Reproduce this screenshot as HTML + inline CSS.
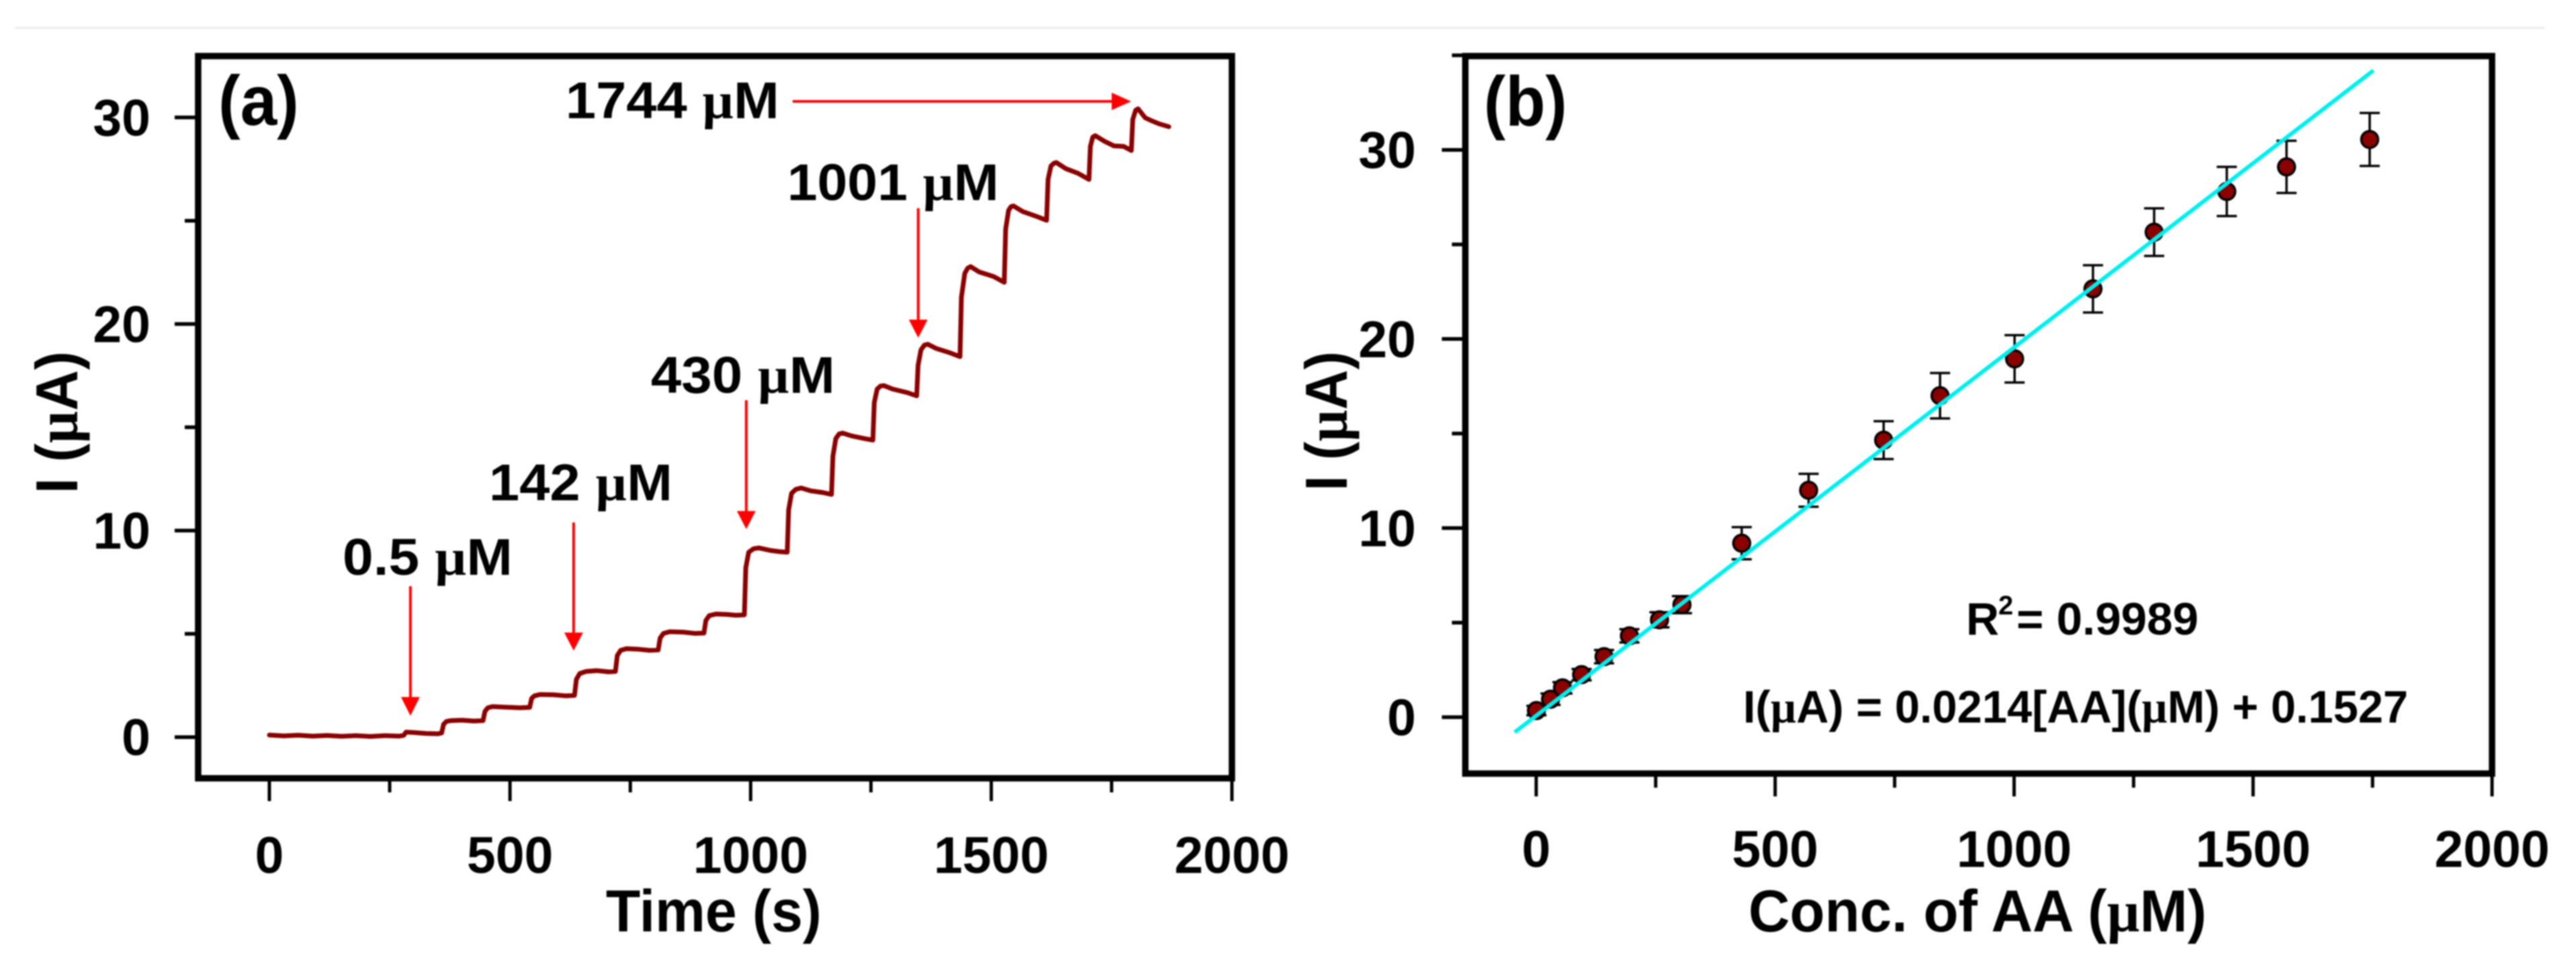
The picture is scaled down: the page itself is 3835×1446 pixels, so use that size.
<!DOCTYPE html>
<html lang="en">
<head>
<meta charset="utf-8">
<title>Current response of AA additions and calibration plot</title>
<style>
html,body{margin:0;padding:0;background:#fff;width:3835px;height:1446px;overflow:hidden}
svg{display:block;filter:blur(1px)}
text{font-family:"Liberation Sans",sans-serif;font-weight:bold;fill:#000}
.mu{font-family:"Liberation Serif",serif;font-weight:bold}
</style>
</head>
<body>
<svg id="figure" xmlns="http://www.w3.org/2000/svg" width="3835" height="1446" viewBox="0 0 3835 1446">
  <rect x="22" y="40" width="3766" height="3" fill="#ececec"/>

  <g id="panel-a">
    <rect x="295" y="83.5" width="1539" height="1075.5" fill="none" stroke="#000" stroke-width="9.5"/>
    <g id="a-axes"></g>
    <g id="a-series"></g>
    <text x="325" y="186" font-size="105" textLength="120" lengthAdjust="spacingAndGlyphs">(a)</text>
    <text x="902" y="1387" font-size="88" textLength="321" lengthAdjust="spacingAndGlyphs">Time (s)</text>
    <text transform="translate(115,735) rotate(-90)" font-size="88" textLength="212" lengthAdjust="spacingAndGlyphs">I (<tspan class="mu">µ</tspan>A)</text>

    <text x="510" y="856" font-size="77" textLength="253" lengthAdjust="spacingAndGlyphs">0.5 <tspan class="mu">µ</tspan>M</text>
    <text x="728" y="745" font-size="77" textLength="273" lengthAdjust="spacingAndGlyphs">142 <tspan class="mu">µ</tspan>M</text>
    <text x="969" y="585" font-size="77" textLength="274" lengthAdjust="spacingAndGlyphs">430 <tspan class="mu">µ</tspan>M</text>
    <text x="1172" y="298" font-size="77" textLength="315" lengthAdjust="spacingAndGlyphs">1001 <tspan class="mu">µ</tspan>M</text>
    <text x="842" y="176" font-size="77" textLength="318" lengthAdjust="spacingAndGlyphs">1744 <tspan class="mu">µ</tspan>M</text>

    <g fill="#ff0000" stroke="none">
      <rect x="609" y="873" width="4" height="170"/><polygon points="597,1038 625,1038 611,1066"/>
    </g>
    <g fill="#ff0000" stroke="none">
      <rect x="852" y="778" width="4" height="170"/><polygon points="840,942 868,942 854,969"/>
    </g>
    <g fill="#ff0000" stroke="none">
      <rect x="1109" y="596" width="4" height="170"/><polygon points="1097,761 1125,761 1111,788"/>
    </g>
    <g fill="#ff0000" stroke="none">
      <rect x="1365" y="310" width="4" height="170"/><polygon points="1353,476 1381,476 1367,503"/>
    </g>
    <g fill="#ff0000" stroke="none">
      <rect x="1180" y="149" width="480" height="4"/><polygon points="1655,138 1655,164 1684,151"/>
    </g>
  </g>

  <g id="panel-b">
    <rect x="2181.5" y="83.5" width="1528.5" height="1068.5" fill="none" stroke="#000" stroke-width="9.5"/>
    <g id="b-axes"></g>
    <g id="b-series"></g>
    <text x="2209" y="187" font-size="105" textLength="124" lengthAdjust="spacingAndGlyphs">(b)</text>
    <text x="2603" y="1387" font-size="88" textLength="682" lengthAdjust="spacingAndGlyphs">Conc. of AA (<tspan class="mu">µ</tspan>M)</text>
    <text transform="translate(2005,731) rotate(-90)" font-size="88" textLength="208" lengthAdjust="spacingAndGlyphs">I (<tspan class="mu">µ</tspan>A)</text>
    <text x="2927" y="945" font-size="68">R</text>
    <text x="2975" y="915" font-size="40">2</text>
    <text x="3002" y="945" font-size="68" textLength="271" lengthAdjust="spacingAndGlyphs">= 0.9989</text>
    <text x="2595" y="1076" font-size="68" textLength="990" lengthAdjust="spacingAndGlyphs">I(<tspan class="mu">µ</tspan>A) = 0.0214[AA](<tspan class="mu">µ</tspan>M) + 0.1527</text>
  </g>
</svg>

<script>
// ---- Panel (a) data: amperometric trace ----
const timeValues = [
  0,30,60,90,120,150,180,210,240,270,279,
  284,300,325,350,358,
  362,368,378,400,425,444,
  448,454,464,490,520,541,
  545,551,562,590,615,634,
  638,645,658,680,705,719,
  723,730,742,765,790,808,
  812,819,832,860,885,903,
  907,914,928,950,970,987,
  990,996,1006,1017,1040,1060,1076,
  1079,1085,1094,1105,1125,1150,1168,
  1171,1177,1184,1191,1210,1235,1254,
  1257,1263,1270,1277,1295,1325,1345,
  1348,1354,1361,1368,1385,1415,1435,
  1438,1445,1451,1457,1475,1505,1527,
  1530,1536,1541,1546,1565,1595,1615,
  1618,1624,1630,1635,1655,1680,1703,
  1706,1711,1716,1735,1755,1775,1791,
  1794,1800,1805,1820,1835,1850,1869
];
const currentValues = [
  0.10,0.06,0.09,0.05,0.08,0.04,0.07,0.03,0.07,0.05,0.08,
  0.24,0.22,0.18,0.16,0.20,
  0.62,0.76,0.80,0.82,0.78,0.80,
  1.25,1.42,1.48,1.45,1.42,1.44,
  1.88,2.00,2.06,2.05,2.00,2.02,
  2.80,3.08,3.18,3.22,3.16,3.18,
  3.95,4.20,4.28,4.26,4.20,4.22,
  4.80,5.02,5.10,5.08,5.02,5.04,
  5.65,5.88,5.96,5.94,5.90,5.92,
  8.20,8.95,9.12,9.16,9.04,8.98,8.95,
  11.0,11.80,12.00,12.06,11.92,11.84,11.75,
  13.6,14.45,14.68,14.72,14.58,14.46,14.38,
  16.2,16.85,17.00,17.02,16.85,16.68,16.52,
  18.0,18.75,18.98,19.02,18.82,18.60,18.42,
  21.3,22.45,22.70,22.78,22.52,22.30,22.02,
  24.6,25.50,25.68,25.72,25.45,25.20,25.02,
  27.0,27.65,27.78,27.82,27.52,27.30,27.00,
  28.6,29.05,29.12,28.85,28.62,28.60,28.40,
  29.9,30.35,30.42,29.98,29.82,29.68,29.55
];
const aXMajorTicks = [0,500,1000,1500,2000];
const aXMinorTicks = [250,750,1250,1750];
const aYMajorTicks = [0,10,20,30];
const aYMinorTicks = [5,15,25];

// ---- Panel (b) data: calibration points ----
const concValues  = [0.5,30,55,95,142,195,258,305,430,570,727,845,1001,1165,1293,1445,1570,1744];
const meanCurrent = [0.35,0.95,1.55,2.25,3.2,4.3,5.15,5.95,9.2,12.0,14.65,17.0,18.95,22.65,25.65,27.8,29.1,30.55];
const errCurrent  = [0.25,0.3,0.3,0.3,0.35,0.35,0.4,0.45,0.85,0.87,1.0,1.2,1.25,1.25,1.26,1.3,1.38,1.4];
const fitConc     = [-45,1752];
const fitCurrent  = [-0.8,34.2];
const bXMajorTicks = [0,500,1000,1500,2000];
const bXMinorTicks = [250,750,1250,1750];
const bYMajorTicks = [0,10,20,30];
const bYMinorTicks = [5,15,25,35];

// ---- Axis functions ----
const xA = t => 401 + t * 0.7165;
const yA = v => 1097.7 - v * 30.76;
const xB = c => 2287 + c * 0.7115;
const yB = v => 1068 - v * 28.16;

const NS = 'http://www.w3.org/2000/svg';
function mk(tag, attrs, parent) {
  const el = document.createElementNS(NS, tag);
  for (const k in attrs) el.setAttribute(k, attrs[k]);
  parent.appendChild(el);
  return el;
}

function drawAxes(parent, xf, yf, xMajor, xMinor, yMajor, yMinor, axisY, axisX, xLabelBase, yLabelRight, prefix) {
  xMajor.forEach(v => {
    const t = mk('line', {x1: xf(v), x2: xf(v), y1: axisY, y2: axisY + 34, stroke: '#000', 'stroke-width': 5}, parent);
    
    
    const l = mk('text', {x: xf(v), y: xLabelBase, 'font-size': 77, 'text-anchor': 'middle'}, parent);
    l.textContent = String(v);
    
    
  });
  xMinor.forEach(v => {
    const t = mk('line', {x1: xf(v), x2: xf(v), y1: axisY, y2: axisY + 21, stroke: '#000', 'stroke-width': 5}, parent);
    
    
  });
  yMajor.forEach(v => {
    const t = mk('line', {x1: axisX - 35, x2: axisX, y1: yf(v), y2: yf(v), stroke: '#000', 'stroke-width': 5.5}, parent);
    
    
    const l = mk('text', {x: yLabelRight, y: yf(v) + 27, 'font-size': 77, 'text-anchor': 'end'}, parent);
    l.textContent = String(v);
    
    
  });
  yMinor.forEach(v => {
    const t = mk('line', {x1: axisX - 20, x2: axisX, y1: yf(v), y2: yf(v), stroke: '#000', 'stroke-width': 5.5}, parent);
    
    
  });
}

drawAxes(document.getElementById('a-axes'), xA, yA, aXMajorTicks, aXMinorTicks, aYMajorTicks, aYMinorTicks, 1159, 295, 1300, 224, 'panel-a');
drawAxes(document.getElementById('b-axes'), xB, yB, bXMajorTicks, bXMinorTicks, bYMajorTicks, bYMinorTicks, 1152, 2181.5, 1291, 2108, 'panel-b');

// ---- Panel (a) trace ----
const aSeries = document.getElementById('a-series');
const tracePoints = timeValues.map((t, i) => xA(t).toFixed(1) + ',' + yA(currentValues[i]).toFixed(1)).join(' ');
const trace = mk('polyline', {points: tracePoints, fill: 'none', stroke: '#880000', 'stroke-width': 7, 'stroke-linejoin': 'round', 'stroke-linecap': 'round'}, aSeries);



// ---- Panel (b) points, error bars, fit ----
const bSeries = document.getElementById('b-series');
concValues.forEach((c, i) => {
  const x = xB(c);
  const top = yB(meanCurrent[i] + errCurrent[i]);
  const bottom = yB(meanCurrent[i] - errCurrent[i]);
  const stem = mk('line', {x1: x, x2: x, y1: top, y2: bottom, stroke: '#000', 'stroke-width': 3.5}, bSeries);
  
  
  const capTop = mk('line', {x1: x - 15, x2: x + 15, y1: top, y2: top, stroke: '#000', 'stroke-width': 3.5}, bSeries);
  
  
  const capBottom = mk('line', {x1: x - 15, x2: x + 15, y1: bottom, y2: bottom, stroke: '#000', 'stroke-width': 3.5}, bSeries);
  
  
});
concValues.forEach((c, i) => {
  const dot = mk('circle', {cx: xB(c), cy: yB(meanCurrent[i]), r: 12.5, fill: '#8b0000', stroke: '#000', 'stroke-width': 3.5}, bSeries);
  
  
});
const fit = mk('line', {x1: xB(fitConc[0]), y1: yB(fitCurrent[0]), x2: xB(fitConc[1]), y2: yB(fitCurrent[1]), stroke: '#00eeee', 'stroke-width': 6}, bSeries);


</script>
</body>
</html>
